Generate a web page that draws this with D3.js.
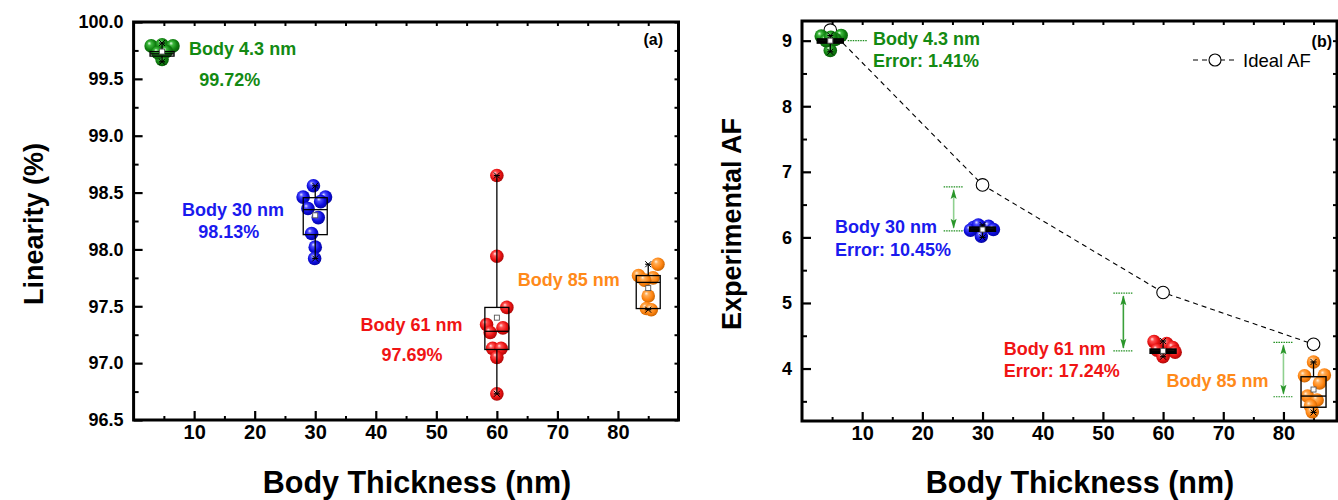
<!DOCTYPE html>
<html><head><meta charset="utf-8">
<script src="https://cdn.jsdelivr.net/npm/d3@7"></script>
<style>
body{margin:0;background:#fff;}
svg{display:block;font-family:"Liberation Sans",Arial,sans-serif;}
</style></head>
<body><svg id="c" width="1338" height="500"></svg>
<script>
// ---------- DATA ----------
const categories = ["Body 4.3 nm","Body 30 nm","Body 61 nm","Body 85 nm"];
const groupX = [4.7, 30, 60, 85];
const xTickLabels = [10,20,30,40,50,60,70,80];
const linTickLabels = [96.5,97.0,97.5,98.0,98.5,99.0,99.5,100.0];
const afTickLabels = [4,5,6,7,8,9];

// Linearity (%) raw points [x, value]
const linGreen  = [[2.9,99.79],[4.7,99.80],[6.5,99.79],[4.7,99.67],[4.0,99.73],[5.4,99.74]];
const linBlue   = [[29.7,98.56],[28.0,98.46],[31.7,98.46],[30.9,98.42],[28.8,98.36],[30.5,98.28],[29.4,98.14],[30.0,98.02],[29.9,97.92]];
const linRed    = [[60,98.65],[60,97.94],[61.65,97.49],[58.3,97.34],[61.0,97.31],[58.9,97.27],[59.3,97.13],[60.7,97.13],[60,97.05],[60,96.73]];
const linOrange = [[86.6,97.87],[83.4,97.77],[85.8,97.75],[84.4,97.73],[85.0,97.59],[84.7,97.48],[85.5,97.47]];
// Linearity box statistics
const linQ3   = [99.74, 98.455, 97.49, 97.77];
const linMed  = [99.72, 98.35, 97.28, 97.71];
const linQ1   = [99.70, 98.13, 97.12, 97.48];
const linMean = [99.74, 98.30, 97.40, 97.66];
const linHi   = [99.815, 98.56, 98.65, 97.87];
const linLo   = [99.65, 97.92, 96.73, 97.47];
const linLabels = ["99.72%","98.13%","97.69%",""];

// Experimental AF raw points [x, value]
const afGreen  = [[3.2,9.07],[6.5,9.08],[4.7,8.85],[4.0,9.0],[5.5,9.02],[4.8,9.05]];
const afBlue   = [[28.5,6.15],[31.0,6.17],[31.8,6.12],[29.8,6.02],[28.0,6.11],[29.3,6.19]];
const afRed    = [[58.5,4.41],[60.6,4.38],[61.6,4.32],[59.0,4.28],[62.0,4.25],[60.0,4.21],[60.0,4.18]];
const afOrange = [[85.0,4.10],[83.5,3.89],[86.8,3.90],[86.0,3.78],[84.0,3.58],[85.6,3.52],[84.5,3.43],[84.8,3.34]];
const afQ3   = [9.02, 6.15, 4.29, 3.875];
const afMed  = [8.99, 6.12, 4.26, 3.58];
const afQ1   = [8.97, 6.10, 4.24, 3.41];
const afMean = [9.00, 6.12, 4.27, 3.68];
const afHi   = [9.08, 6.19, 4.42, 4.10];
const afLo   = [8.83, 6.00, 4.18, 3.33];
const idealAF = [9.16, 6.80, 5.16, 4.37];
const measuredAF = [9.00, 6.10, 4.27, 3.57];
const errLabels = ["Error: 1.41%","Error: 10.45%","Error: 17.24%",""];

// annotation anchors (data coords)
const linNameAnchor = [[9.17,99.71],[8.01,98.294],[37.46,97.282],[63.45,97.678]];
const linValAnchor  = [[10.84,99.437],[10.66,98.10],[40.94,97.018],null];
const afNameAnchor  = [[11.78,8.931],[5.48,6.066],[33.53,4.206],[60.58,3.718]];
const afErrAnchor   = [[11.78,8.596],[5.48,5.715],[33.53,3.870],null];
const arrowX = [null, 25.2, 53.4, 80.0];

// ---------- STYLE ----------
const colors = ["#138a13","#1a1aee","#f01414","#ff8a1a"];
const ballStops = [
  ["#e8ffe8","#3db83d","#108010","#0a5a0a"],
  ["#e6e6ff","#4a4aff","#0c0cdc","#05059a"],
  ["#ffe6e6","#ff5050","#e81010","#a00808"],
  ["#fff1e0","#ffac55","#ff8410","#c05e00"]
];

const svg = d3.select("#c");
const defs = svg.append("defs");
ballStops.forEach((s,i)=>{
  const g = defs.append("radialGradient").attr("id","ball"+i)
    .attr("cx","45%").attr("cy","45%").attr("r","60%").attr("fx","35%").attr("fy","30%");
  g.append("stop").attr("offset","0%").attr("stop-color",s[0]);
  g.append("stop").attr("offset","25%").attr("stop-color",s[1]);
  g.append("stop").attr("offset","65%").attr("stop-color",s[2]);
  g.append("stop").attr("offset","100%").attr("stop-color",s[3]);
});

const font = '"Liberation Sans",Arial,sans-serif';

function panel(cfg){
  const {x, y, xMinor, yMajor, yMinor, yFmt} = cfg;
  const [x0,x1] = x.range(); const [y1,y0] = y.range();
  const g = svg.append("g");
  const tick = (ax, w) => {
    const a = g.append("g").call(ax);
    a.select(".domain").remove();
    a.selectAll("line").attr("stroke","#000").attr("stroke-width",w);
    return a;
  };
  const bm = tick(d3.axisBottom(x).tickValues(xTickLabels).tickSize(-9).tickPadding(5).tickFormat(d3.format("d")), 2.2);
  bm.attr("transform",`translate(0,${y1})`);
  bm.selectAll("text").attr("font-family",font).attr("font-weight","bold").attr("font-size",20).attr("fill","#000").attr("dy","0.72em");
  tick(d3.axisBottom(x).tickValues(xMinor).tickSize(-4).tickFormat(""),2).attr("transform",`translate(0,${y1})`);
  tick(d3.axisTop(x).tickValues(xMinor.concat(xTickLabels)).tickSize(-4).tickFormat(""),2).attr("transform",`translate(0,${y0})`);
  const lm = tick(d3.axisLeft(y).tickValues(yMajor).tickSize(-9).tickPadding(10).tickFormat(yFmt),2.2);
  lm.attr("transform",`translate(${x0},0)`);
  lm.selectAll("text").attr("font-family",font).attr("font-weight","bold").attr("font-size",18).attr("fill","#000");
  tick(d3.axisLeft(y).tickValues(yMinor).tickSize(-5).tickFormat(""),2).attr("transform",`translate(${x0},0)`);
  tick(d3.axisRight(y).tickValues(yMinor.concat(yMajor)).tickSize(-4).tickFormat(""),2).attr("transform",`translate(${x1},0)`);
  g.append("rect").attr("x",x0).attr("y",y0).attr("width",x1-x0).attr("height",y1-y0)
    .attr("fill","none").attr("stroke","#000").attr("stroke-width",3);
  return g;
}

function balls(g, x, y, pts, i){
  g.selectAll(null).data(pts).enter().append("circle")
    .attr("cx",d=>x(d[0])).attr("cy",d=>y(d[1])).attr("r",6.8)
    .attr("fill",`url(#ball${i})`);
}

function box(g, x, y, i, q1, med, q3, mean, lo, hi, bw, sw){
  const cx = x(groupX[i]);
  const gg = g.append("g").attr("stroke","#000").attr("fill","none");
  gg.append("line").attr("x1",cx).attr("x2",cx).attr("y1",y(hi[i])).attr("y2",y(q3[i])).attr("stroke-width",1.3);
  gg.append("line").attr("x1",cx).attr("x2",cx).attr("y1",y(q1[i])).attr("y2",y(lo[i])).attr("stroke-width",1.3);
  gg.append("rect").attr("x",cx-bw/2).attr("width",bw)
    .attr("y",y(q3[i])).attr("height",Math.max(0.5,y(q1[i])-y(q3[i]))).attr("stroke-width",sw);
  gg.append("line").attr("x1",cx-bw/2).attr("x2",cx+bw/2).attr("y1",y(med[i])).attr("y2",y(med[i])).attr("stroke-width",sw);
  [hi[i],lo[i]].forEach(v=>{
    gg.append("line").attr("x1",cx-3).attr("x2",cx+3).attr("y1",y(v)).attr("y2",y(v)).attr("stroke-width",1.2);
    const yy=y(v);
    gg.append("path").attr("d",`M${cx-3},${yy-3}L${cx+3},${yy+3}M${cx-3},${yy+3}L${cx+3},${yy-3}`).attr("stroke-width",1);
  });
  gg.append("rect").attr("x",cx-2.5).attr("y",y(mean[i])-2.5).attr("width",5).attr("height",5)
    .attr("stroke","#555").attr("stroke-width",0.9).attr("fill","#fff");
}

function txt(g, xx, yy, s, color, size, weight, anchor){
  g.append("text").attr("x",xx).attr("y",yy).text(s).attr("fill",color)
    .attr("font-family",font).attr("font-size",size).attr("font-weight",weight||"bold")
    .attr("text-anchor",anchor||"start");
}

const d3range = (a,b,s)=>d3.range(Math.round((b-a)/s)+1).map(k=>+(a+k*s).toFixed(3));

// ---------- LEFT PANEL ----------
const xL = d3.scaleLinear().domain([0,90]).range([133.6,678.5]);
const yL = d3.scaleLinear().domain([96.5,100]).range([420,22]);
const gL = panel({x:xL, y:yL, xMinor:d3range(5,85,10),
  yMajor:linTickLabels, yMinor:d3range(96.75,99.75,0.5), yFmt:d3.format(".1f")});
const linSets=[linGreen,linBlue,linRed,linOrange];
linSets.forEach((p,i)=>balls(gL,xL,yL,p,i));
linSets.forEach((p,i)=>box(gL,xL,yL,i,linQ1,linMed,linQ3,linMean,linLo,linHi,24,1.3));
categories.forEach((c,i)=>{
  const a=linNameAnchor[i]; txt(gL,xL(a[0]),yL(a[1]),c,colors[i],18);
  const b=linValAnchor[i]; if(b) txt(gL,xL(b[0]),yL(b[1]),linLabels[i],colors[i],18);
});
txt(gL,663,45,"(a)","#000",16,"bold","end");
txt(gL,417,493,"Body Thickness (nm)","#000",30.5,"bold","middle");
gL.append("text").attr("transform","translate(43,224) rotate(-90)").attr("text-anchor","middle")
  .attr("font-family",font).attr("font-weight","bold").attr("font-size",27).text("Linearity (%)");

// ---------- RIGHT PANEL ----------
const xR = d3.scaleLinear().domain([0,88.9]).range([802,1337]);
const yR = d3.scaleLinear().domain([3.2,9.3]).range([421,21]);
const gR = panel({x:xR, y:yR, xMinor:d3range(5,85,10),
  yMajor:afTickLabels, yMinor:d3range(3.5,8.5,1), yFmt:d3.format("d")});
const line = d3.line().x((d,i)=>xR(groupX[i])).y(d=>yR(d));
gR.append("path").attr("d",line(idealAF)).attr("fill","none").attr("stroke","#000")
  .attr("stroke-width",1.1).attr("stroke-dasharray","5,4");
gR.selectAll(null).data(idealAF).enter().append("circle")
  .attr("cx",(d,i)=>xR(groupX[i])).attr("cy",d=>yR(d)).attr("r",6.3)
  .attr("fill","#fff").attr("stroke","#000").attr("stroke-width",1.1);
const afSets=[afGreen,afBlue,afRed,afOrange];
afSets.forEach((p,i)=>balls(gR,xR,yR,p,i));
afSets.forEach((p,i)=>{
  const h = yR(afQ1[i])-yR(afQ3[i]);
  box(gR,xR,yR,i,afQ1,afMed,afQ3,afMean,afLo,afHi,25,h<10?2.4:1.4);
});
const ag = gR.append("g");
ag.append("line").attr("x1",xR(7.6)).attr("x2",xR(10.8)).attr("y1",yR(measuredAF[0])).attr("y2",yR(measuredAF[0]))
  .attr("stroke","#1f8f1f").attr("stroke-width",1.2).attr("stroke-dasharray","1.5,1");
arrowX.forEach((ax,i)=>{
  if(ax===null) return;
  const cx=xR(ax), yt=yR(idealAF[i]+ (i===1?-0.03:(i===3?0.03:-0.01))), yb=yR(measuredAF[i]);
  [yt,yb].forEach(yy=>ag.append("line").attr("x1",cx-10).attr("x2",cx+10).attr("y1",yy).attr("y2",yy)
    .attr("stroke","#1f8f1f").attr("stroke-width",1.2).attr("stroke-dasharray","1.5,1"));
  ag.append("line").attr("x1",cx).attr("x2",cx).attr("y1",yt+3).attr("y2",yb-3)
    .attr("stroke",i===2?"#3aa03a":"#8fd08f").attr("stroke-width",1.6);
  ag.append("path").attr("d",`M${cx},${yt+2}L${cx-3},${yt+12}L${cx},${yt+10}L${cx+3},${yt+12}Z`).attr("fill","#2a962a");
  ag.append("path").attr("d",`M${cx},${yb-2}L${cx-3},${yb-12}L${cx},${yb-10}L${cx+3},${yb-12}Z`).attr("fill","#2a962a");
});
categories.forEach((c,i)=>{
  const a=afNameAnchor[i]; txt(gR,xR(a[0]),yR(a[1]),c,colors[i],18);
  const b=afErrAnchor[i]; if(b) txt(gR,xR(b[0]),yR(b[1]),errLabels[i],colors[i],18);
});
txt(gR,1332,47,"(b)","#000",16,"bold","end");
gR.append("line").attr("x1",1193).attr("x2",1238).attr("y1",60).attr("y2",60)
  .attr("stroke","#000").attr("stroke-width",1.1).attr("stroke-dasharray","5,4");
gR.append("circle").attr("cx",1215).attr("cy",60).attr("r",6).attr("fill","#fff").attr("stroke","#000").attr("stroke-width",1.1);
txt(gR,1243,66.5,"Ideal AF","#000",18.5,"normal");
txt(gR,1080,493,"Body Thickness (nm)","#000",30.5,"bold","middle");
gR.append("text").attr("transform","translate(741,224) rotate(-90)").attr("text-anchor","middle")
  .attr("font-family",font).attr("font-weight","bold").attr("font-size",27).text("Experimental AF");
</script></body></html>
